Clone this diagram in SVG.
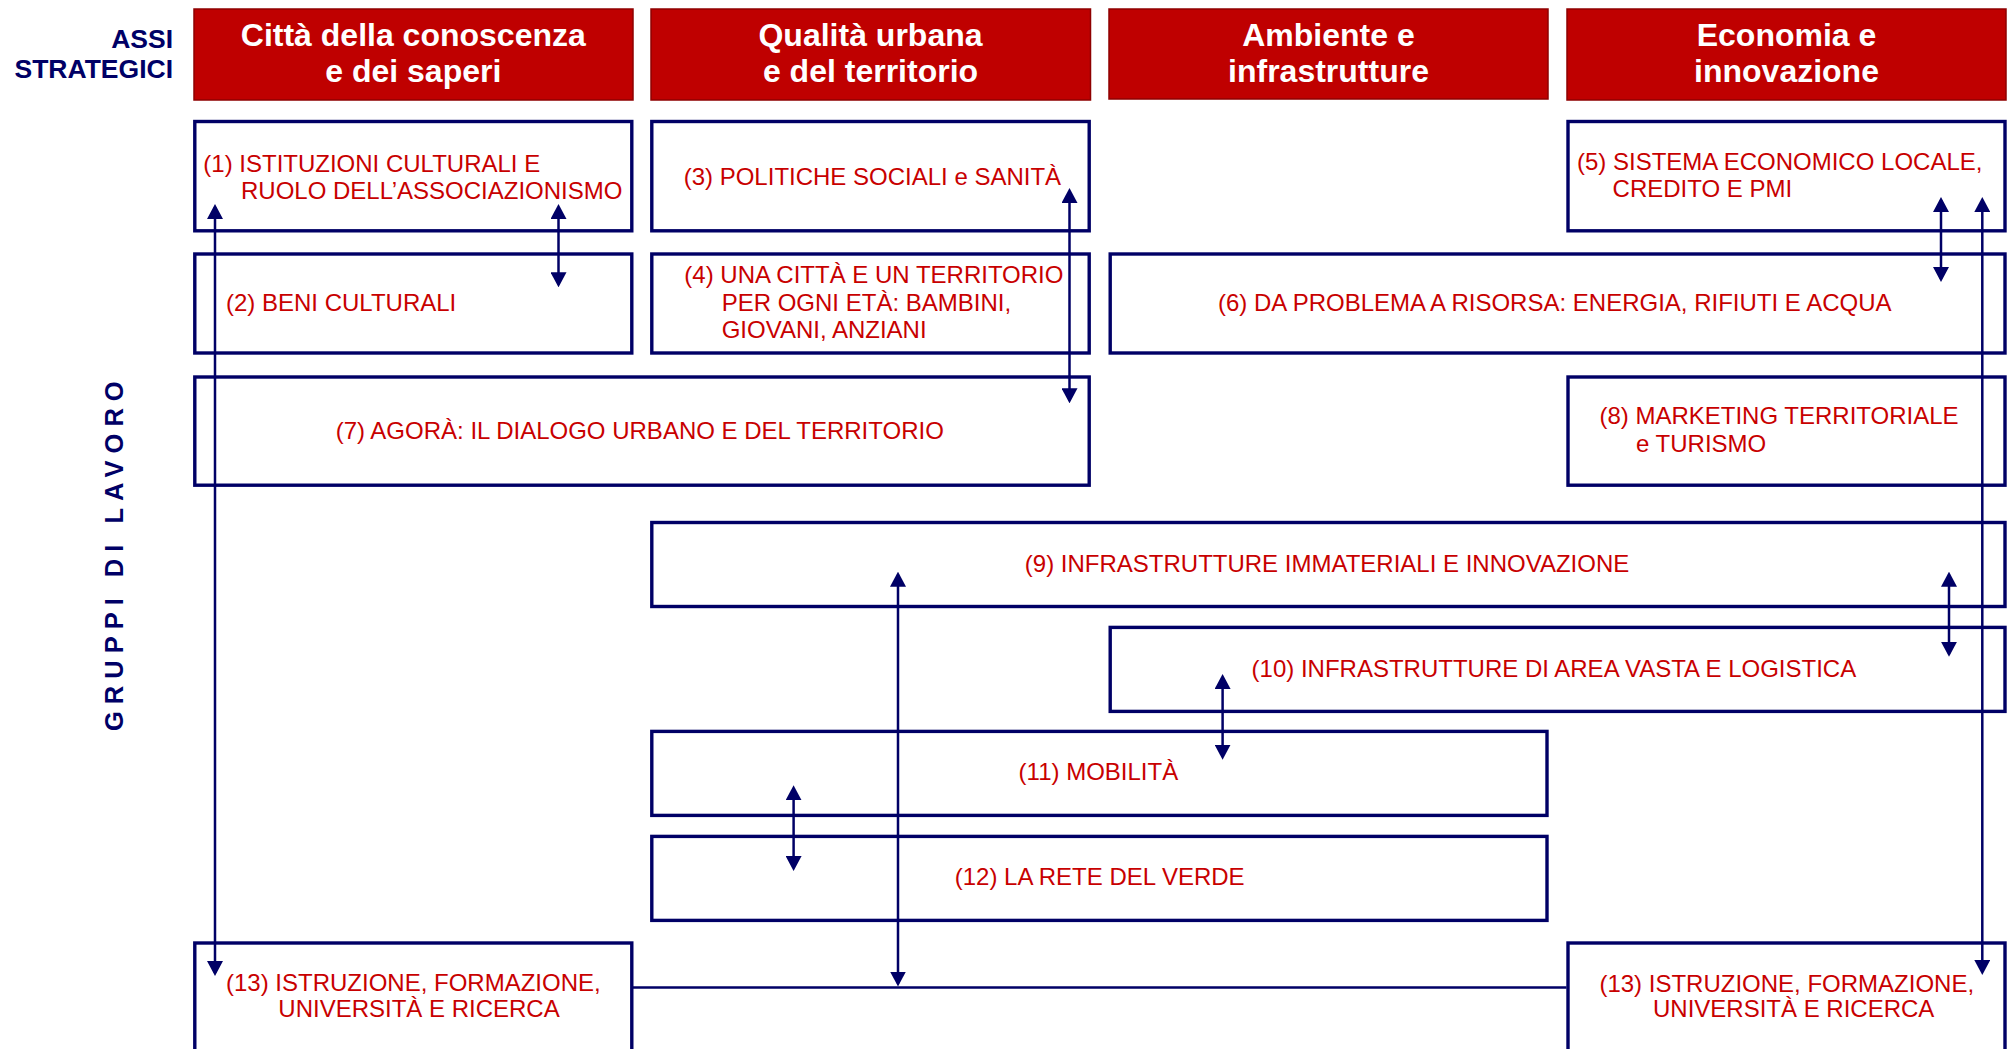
<svg xmlns="http://www.w3.org/2000/svg" width="2010" height="1049" viewBox="0 0 2010 1049">
<style>
  .hdr { fill: #BF0000; stroke: #8E0000; stroke-width: 1.5; }
  .htx { font-family: "Liberation Sans", Arial, sans-serif; font-weight: bold; font-size: 32px; fill: #FFFFFF; text-anchor: middle; }
  .box { fill: #FFFFFF; stroke: #000066; stroke-width: 3.4; }
  .btx { font-family: "Liberation Sans", Arial, sans-serif; font-size: 24px; fill: #C80000; }
  .lbl { font-family: "Liberation Sans", Arial, sans-serif; font-weight: bold; fill: #000066; }
  .con { fill: none; stroke: #000066; stroke-width: 2.5; }
</style>
<defs>
  <marker id="ah" viewBox="0 0 15 16" refX="12" refY="8" markerWidth="15" markerHeight="16" markerUnits="userSpaceOnUse" orient="auto-start-reverse">
    <path d="M0,0 L15,8 L0,16 Z" fill="#000066"/>
  </marker>
</defs>
<rect width="2010" height="1049" fill="#FFFFFF"/>

<g id="labels">
  <text class="lbl" font-size="26.5" text-anchor="end" x="173" y="47.7">ASSI</text>
  <text class="lbl" font-size="26.5" text-anchor="end" x="173" y="77.7">STRATEGICI</text>
  <text class="lbl" font-size="25.5" letter-spacing="7" transform="translate(122.7,731) rotate(-90)">GRUPPI DI LAVORO</text>
</g>

<g id="header-1">
  <rect class="hdr" x="194" y="9" width="439" height="91"/>
  <text class="htx" x="413.3" y="45.7">Città della conoscenza</text>
  <text class="htx" x="413.3" y="81.7">e dei saperi</text>
</g>
<g id="header-2">
  <rect class="hdr" x="651" y="9" width="439.5" height="91"/>
  <text class="htx" x="870.5" y="45.7">Qualità urbana</text>
  <text class="htx" x="870.5" y="81.7">e del territorio</text>
</g>
<g id="header-3">
  <rect class="hdr" x="1109" y="9" width="439" height="90"/>
  <text class="htx" x="1328.5" y="45.7">Ambiente e</text>
  <text class="htx" x="1328.5" y="81.7">infrastrutture</text>
</g>
<g id="header-4">
  <rect class="hdr" x="1567" y="9" width="439" height="91"/>
  <text class="htx" x="1786.5" y="45.7">Economia e</text>
  <text class="htx" x="1786.5" y="81.7">innovazione</text>
</g>

<g id="node-1">
  <rect class="box" x="194.8" y="121.5" width="437" height="109.3"/>
  <text class="btx" x="203.3" y="171.7">(1) ISTITUZIONI CULTURALI E</text>
  <text class="btx" x="241" y="198.5">RUOLO DELL’ASSOCIAZIONISMO</text>
</g>
<g id="node-3">
  <rect class="box" x="651.8" y="121.5" width="437.4" height="109.3"/>
  <text class="btx" x="683.7" y="185">(3) POLITICHE SOCIALI e SANITÀ</text>
</g>
<g id="node-5">
  <rect class="box" x="1568" y="121.5" width="437" height="109.3"/>
  <text class="btx" x="1577" y="170">(5) SISTEMA ECONOMICO LOCALE,</text>
  <text class="btx" x="1612.6" y="196.7">CREDITO E PMI</text>
</g>
<g id="node-2">
  <rect class="box" x="194.8" y="254" width="437" height="99"/>
  <text class="btx" x="226" y="310.7">(2) BENI CULTURALI</text>
</g>
<g id="node-4">
  <rect class="box" x="651.8" y="254" width="437.4" height="99"/>
  <text class="btx" x="684.3" y="283.3">(4) UNA CITTÀ E UN TERRITORIO</text>
  <text class="btx" x="721.7" y="311">PER OGNI ETÀ: BAMBINI,</text>
  <text class="btx" x="721.7" y="338">GIOVANI, ANZIANI</text>
</g>
<g id="node-6">
  <rect class="box" x="1110.2" y="254" width="894.8" height="99"/>
  <text class="btx" x="1218" y="310.7">(6) DA PROBLEMA A RISORSA: ENERGIA, RIFIUTI E ACQUA</text>
</g>
<g id="node-7">
  <rect class="box" x="194.8" y="377" width="894.4" height="108.2"/>
  <text class="btx" x="335.7" y="439">(7) AGORÀ: IL DIALOGO URBANO E DEL TERRITORIO</text>
</g>
<g id="node-8">
  <rect class="box" x="1568" y="377" width="437" height="108.2"/>
  <text class="btx" x="1599.4" y="424">(8) MARKETING TERRITORIALE</text>
  <text class="btx" x="1636" y="451.7">e TURISMO</text>
</g>
<g id="node-9">
  <rect class="box" x="651.8" y="522.5" width="1353.2" height="84"/>
  <text class="btx" x="1024.8" y="571.7">(9) INFRASTRUTTURE IMMATERIALI E INNOVAZIONE</text>
</g>
<g id="node-10">
  <rect class="box" x="1110.2" y="627.4" width="894.8" height="84"/>
  <text class="btx" x="1251.6" y="676.8">(10) INFRASTRUTTURE DI AREA VASTA E LOGISTICA</text>
</g>
<g id="node-11">
  <rect class="box" x="651.8" y="731.4" width="895.2" height="84"/>
  <text class="btx" x="1018.6" y="780">(11) MOBILITÀ</text>
</g>
<g id="node-12">
  <rect class="box" x="651.8" y="836.4" width="895.2" height="84"/>
  <text class="btx" x="954.7" y="885">(12) LA RETE DEL VERDE</text>
</g>
<g id="node-13a">
  <rect class="box" x="194.8" y="943" width="437" height="130"/>
  <text class="btx" x="226" y="990.7">(13) ISTRUZIONE, FORMAZIONE,</text>
  <text class="btx" x="278.3" y="1017.3">UNIVERSITÀ E RICERCA</text>
</g>
<g id="node-13b">
  <rect class="box" x="1568" y="943" width="437" height="130"/>
  <text class="btx" x="1599.4" y="991.5">(13) ISTRUZIONE, FORMAZIONE,</text>
  <text class="btx" x="1653" y="1017">UNIVERSITÀ E RICERCA</text>
</g>

<g id="connectors">
  <path class="con" d="M633,987.6 H1566.5" stroke-width="2"/>
  <path class="con" d="M215,207 V973" marker-start="url(#ah)" marker-end="url(#ah)"/>
  <path class="con" d="M558.5,207 V284.3" marker-start="url(#ah)" marker-end="url(#ah)"/>
  <path class="con" d="M1069.5,191 V400.3" marker-start="url(#ah)" marker-end="url(#ah)"/>
  <path class="con" d="M1941,200 V279" marker-start="url(#ah)" marker-end="url(#ah)"/>
  <path class="con" d="M1982.3,200 V972" marker-start="url(#ah)" marker-end="url(#ah)"/>
  <path class="con" d="M898,574.7 V983.5" marker-start="url(#ah)" marker-end="url(#ah)"/>
  <path class="con" d="M1949,574.7 V653.8" marker-start="url(#ah)" marker-end="url(#ah)"/>
  <path class="con" d="M1222.6,677 V756.7" marker-start="url(#ah)" marker-end="url(#ah)"/>
  <path class="con" d="M793.6,788.3 V868" marker-start="url(#ah)" marker-end="url(#ah)"/>
</g>
</svg>
